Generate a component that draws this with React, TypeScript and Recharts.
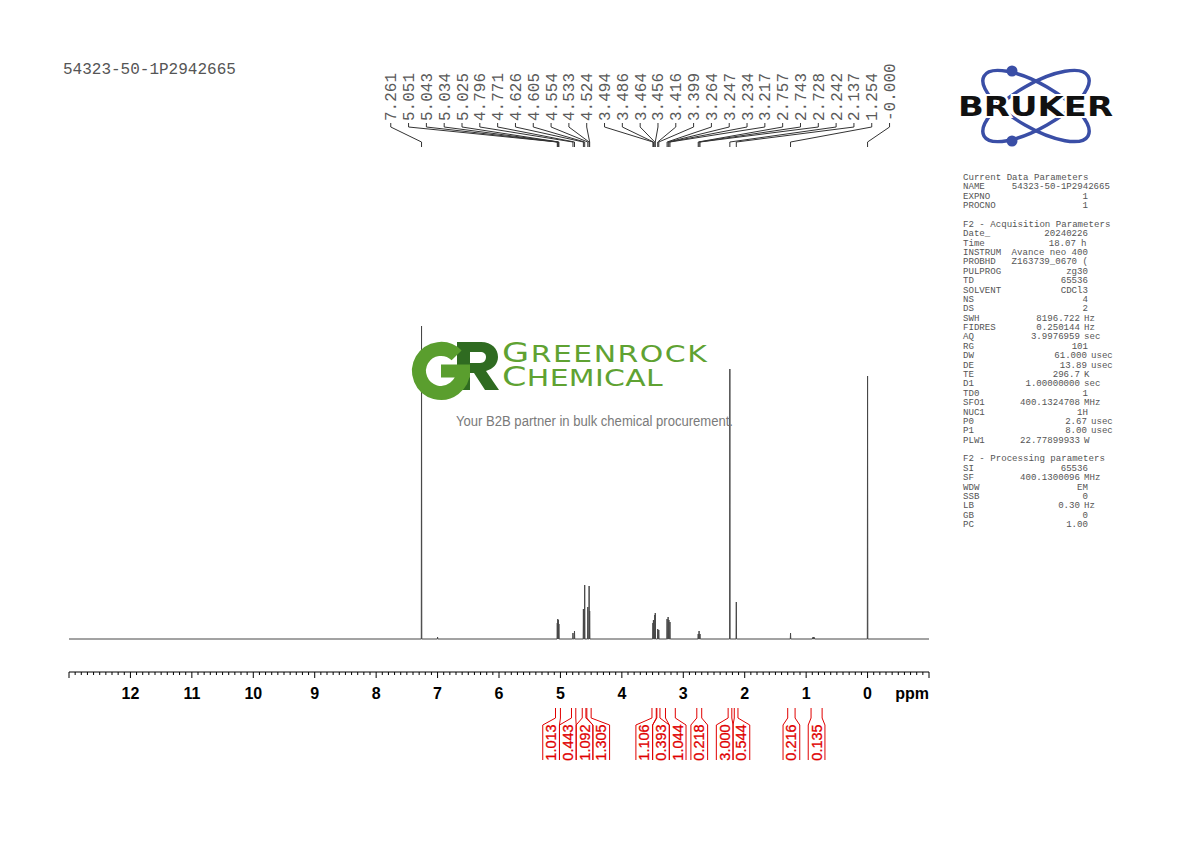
import React from 'react';
import { ComposedChart, Line, Scatter, XAxis, YAxis } from 'recharts';

const W = 1190;
const H = 842;
const PPM_MIN = -1;
const PPM_MAX = 13;

const sampleName = '54323-50-1P2942665';

// spectrum peaks: chemical shift (ppm) and height (relative units, baseline = 0)
const peakPpm = [7.261, 7.0, 5.051, 5.043, 5.034, 5.025, 4.796, 4.771, 4.626, 4.605, 4.554, 4.533, 4.524,
  3.494, 3.486, 3.464, 3.456, 3.416, 3.399, 3.264, 3.247, 3.234, 3.217, 2.757, 2.743, 2.728,
  2.242, 2.137, 1.254, 0.895, 0.88, 0.865, 0.0];
const peakHeight = [313, 2, 16, 20, 19, 15, 6, 8, 30, 54, 32, 53, 28,
  16, 19, 24, 26, 10, 9, 20, 22, 19, 17, 5, 8, 5,
  270, 37, 6, 1.5, 2, 1.5, 263];

// peak picking labels
const labelPpm = [7.261, 5.051, 5.043, 5.034, 5.025, 4.796, 4.771, 4.626, 4.605, 4.554, 4.533, 4.524,
  3.494, 3.486, 3.464, 3.456, 3.416, 3.399, 3.264, 3.247, 3.234, 3.217, 2.757, 2.743, 2.728,
  2.242, 2.137, 1.254, 0.0];
const labelText = ['7.261', '5.051', '5.043', '5.034', '5.025', '4.796', '4.771', '4.626', '4.605', '4.554',
  '4.533', '4.524', '3.494', '3.486', '3.464', '3.456', '3.416', '3.399', '3.264', '3.247', '3.234',
  '3.217', '2.757', '2.743', '2.728', '2.242', '2.137', '1.254', '-0.000'];

// integrals
const integralFrom = [5.08, 4.82, 4.645, 4.57, 3.51, 3.43, 3.29, 2.78, 2.27, 2.17, 1.30, 0.92];
const integralTo = [5.0, 4.75, 4.585, 4.5, 3.44, 3.38, 3.13, 2.7, 2.21, 2.11, 1.18, 0.74];
const integralValue = ['1.013', '0.443', '1.092', '1.305', '1.106', '0.393', '1.044', '0.218', '3.000', '0.544', '0.216', '0.135'];

// axis
const majorTicks = [13, 12, 11, 10, 9, 8, 7, 6, 5, 4, 3, 2, 1, 0, -1];
const majorLabels = ['', '12', '11', '10', '9', '8', '7', '6', '5', '4', '3', '2', '1', '0', 'ppm'];

// acquisition / processing parameters
const paramNames = ['Current Data Parameters', 'NAME', 'EXPNO', 'PROCNO', '', 'F2 - Acquisition Parameters',
  'Date_', 'Time', 'INSTRUM', 'PROBHD', 'PULPROG', 'TD', 'SOLVENT', 'NS', 'DS', 'SWH', 'FIDRES', 'AQ', 'RG',
  'DW', 'DE', 'TE', 'D1', 'TD0', 'SFO1', 'NUC1', 'P0', 'P1', 'PLW1', '', 'F2 - Processing parameters',
  'SI', 'SF', 'WDW', 'SSB', 'LB', 'GB', 'PC'];
const paramValues = ['', '54323-50-1P2942665', '1', '1', '', '',
  '20240226', '18.07', 'Avance neo 400', 'Z163739_0670 (', 'zg30', '65536', 'CDCl3', '4', '2', '8196.722', '0.250144', '3.9976959', '101',
  '61.000', '13.89', '296.7', '1.00000000', '1', '400.1324708', '1H', '2.67', '8.00', '22.77899933', '', '',
  '65536', '400.1300096', 'EM', '0', '0.30', '0', '1.00'];
const paramUnits = ['', '', '', '', '', '',
  '', 'h', '', '', '', '', '', '', '', 'Hz', 'Hz', 'sec', '',
  'usec', 'usec', 'K', 'sec', '', 'MHz', '', 'usec', 'usec', 'W', '', '',
  '', 'MHz', '', '', 'Hz', '', ''];

// ---------- helpers ----------
function spread(targets: number[], gap: number): number[] {
  const cl: { idx: number[]; sum: number }[] = [];
  const bounds = (c: { idx: number[]; sum: number }) => {
    const m = c.sum / c.idx.length;
    const half = ((c.idx.length - 1) * gap) / 2;
    return { hi: m + half, lo: m - half };
  };
  targets.forEach((t, i) => {
    cl.push({ idx: [i], sum: t });
    while (cl.length > 1) {
      const b = cl[cl.length - 1];
      const a = cl[cl.length - 2];
      if (bounds(a).lo - bounds(b).hi < gap) {
        a.idx.push(...b.idx);
        a.sum += b.sum;
        cl.pop();
      } else break;
    }
  });
  const out: number[] = new Array(targets.length);
  cl.forEach((c) => {
    const { hi } = bounds(c);
    c.idx.forEach((i, k) => {
      out[i] = hi - k * gap;
    });
  });
  return out;
}

const PEAK_HALF_WIDTH = 0.004;
const spectrum = (() => {
  const pts: { x: number; y: number }[] = [{ x: PPM_MAX, y: 0 }];
  const order = peakPpm.map((_, i) => i).sort((a, b) => peakPpm[b] - peakPpm[a]);
  order.forEach((i) => {
    pts.push({ x: peakPpm[i] + PEAK_HALF_WIDTH, y: 0 });
    pts.push({ x: peakPpm[i], y: peakHeight[i] });
    pts.push({ x: peakPpm[i] - PEAK_HALF_WIDTH, y: 0 });
  });
  pts.push({ x: PPM_MIN, y: 0 });
  return pts;
})();

// annotation levels (same units as the spectrum axis)
const LBL_BASE = 518;
const CON_A = 516;
const CON_B = 512;
const CON_C = 497;
const CON_D = 492;
const LABEL_GAP = 0.29;

const labelPos = spread(labelPpm, LABEL_GAP);
const labelPoints = labelPpm.map((p, i) => ({ x: labelPos[i], y: LBL_BASE, text: labelText[i] }));
const connectors: { x: number; y: number | null }[] = [];
labelPpm.forEach((p, i) => {
  connectors.push({ x: labelPos[i], y: CON_A }, { x: labelPos[i], y: CON_B }, { x: p, y: CON_C }, { x: p, y: CON_D }, { x: p, y: null });
});

// integral annotation levels (chart 2 units, 0 = top)
const INT_GAP = 0.272;
const IT_TOP = 8;
const IT_MID = 18;
const IT_BOX = 25;
const IT_BOT = 60;
const IT_TEXT = 42.5;
const integralCenters = integralFrom.map((a, i) => (a + integralTo[i]) / 2);
const integralPos = spread(integralCenters, INT_GAP);
const integralPoints = integralPos.map((c, i) => ({ x: c, y: IT_TEXT, text: integralValue[i] }));
const brackets: { x: number; y: number | null }[] = [];
integralPos.forEach((c, i) => {
  const L = c + INT_GAP / 2;
  const R = c - INT_GAP / 2;
  brackets.push({ x: L, y: IT_BOT }, { x: L, y: IT_BOX }, { x: integralFrom[i], y: IT_MID }, { x: integralFrom[i], y: IT_TOP }, { x: L, y: null });
  brackets.push({ x: R, y: IT_BOT }, { x: R, y: IT_BOX }, { x: integralTo[i], y: IT_MID }, { x: integralTo[i], y: IT_TOP }, { x: R, y: null });
});

const axisTicks: number[] = [];
majorTicks.forEach((m) => {
  if (m > PPM_MIN) {
    for (let k = 0; k < 10; k++) axisTicks.push(Math.round((m - k / 10) * 10) / 10);
  } else axisTicks.push(m);
});

const AxisTick = (props: any) => {
  const { x, y, payload } = props;
  const v = payload.value as number;
  const mi = majorTicks.indexOf(v);
  const isMajor = mi >= 0;
  const lab = isMajor ? majorLabels[mi] : '';
  return (
    <g>
      <line x1={x} x2={x} y1={y} y2={y + (isMajor ? 6 : 3)} stroke="#000" strokeWidth={1} />
      {lab && (
        <text x={x} y={y + 27} textAnchor={lab === 'ppm' ? 'end' : 'middle'} fontFamily="'Liberation Sans', Arial, sans-serif" fontWeight="bold" fontSize={16} fill="#000">
          {lab}
        </text>
      )}
    </g>
  );
};

const renderPeakLabel = (props: any) => {
  const { cx, cy, payload } = props;
  return (
    <text x={cx} y={cy} dy={5.5} transform={`rotate(-90 ${cx} ${cy})`} textAnchor="start" fontFamily="'Liberation Mono', 'Courier New', monospace" fontSize={16} fill="#5a5a5a">
      {payload.text}
    </text>
  );
};

const renderIntegralLabel = (props: any) => {
  const { cx, cy, payload } = props;
  return (
    <text x={cx} y={cy} dy={5} transform={`rotate(-90 ${cx} ${cy})`} textAnchor="middle" fontFamily="'Liberation Sans', Arial, sans-serif" fontSize={14.5} fill="#e00000" stroke="#e00000" strokeWidth={0.3}>
      {payload.text}
    </text>
  );
};

const MONO = "'Liberation Mono', 'Courier New', monospace";

export default function App() {
  const paramY0 = 180;
  const paramDy = 9.38;
  return (
    <div style={{ position: 'absolute', left: 0, top: 0, width: W, height: H, background: '#fff', overflow: 'hidden' }}>
      <div style={{ position: 'absolute', left: 0, top: 0 }}>
        <ComposedChart width={W} height={H} margin={{ top: 60, right: 261, bottom: 140, left: 69 }}>
          <XAxis
            type="number"
            dataKey="x"
            domain={[PPM_MIN, PPM_MAX]}
            reversed
            ticks={axisTicks}
            interval={0}
            tickSize={0}
            tickMargin={0}
            tickLine={false}
            axisLine={{ stroke: '#000', strokeWidth: 1 }}
            tick={<AxisTick />}
            height={30}
          />
          <YAxis hide type="number" dataKey="y" domain={[-33, 579]} />
          <Line data={spectrum} dataKey="y" type="linear" stroke="#474747" strokeWidth={1} dot={false} activeDot={false} isAnimationActive={false} />
          <Line data={connectors} dataKey="y" type="linear" stroke="#333" strokeWidth={1} dot={false} activeDot={false} connectNulls={false} isAnimationActive={false} />
          <Scatter data={labelPoints} dataKey="y" shape={renderPeakLabel} isAnimationActive={false} />
        </ComposedChart>
      </div>
      <div style={{ position: 'absolute', left: 0, top: 700 }}>
        <ComposedChart width={W} height={70} margin={{ top: 0, right: 261, bottom: 0, left: 69 }}>
          <XAxis hide type="number" dataKey="x" domain={[PPM_MIN, PPM_MAX]} reversed />
          <YAxis hide type="number" dataKey="y" domain={[0, 70]} reversed />
          <Line data={brackets} dataKey="y" type="linear" stroke="#e00000" strokeWidth={1} dot={false} activeDot={false} connectNulls={false} isAnimationActive={false} />
          <Scatter data={integralPoints} dataKey="y" shape={renderIntegralLabel} isAnimationActive={false} />
        </ComposedChart>
      </div>
      <svg style={{ position: 'absolute', left: 0, top: 0, pointerEvents: 'none' }} width={W} height={H}>
        <text x={63} y={74} fontFamily={MONO} fontSize={16} fill="#555">{sampleName}</text>

        {/* Bruker logo */}
        <g>
          <ellipse cx={1036} cy={106} rx={60} ry={22} transform="rotate(30 1036 106)" fill="none" stroke="#3a4ea6" strokeWidth={3.5} />
          <ellipse cx={1036} cy={106} rx={60} ry={22} transform="rotate(-30 1036 106)" fill="none" stroke="#3a4ea6" strokeWidth={3.5} />
          <circle cx={1012} cy={71} r={5.5} fill="#3a4ea6" />
          <circle cx={1012} cy={141} r={5.5} fill="#3a4ea6" />
          <text x={958} y={116} fontFamily="'DejaVu Sans', sans-serif" fontWeight="bold" fontSize={27} textLength={155} lengthAdjust="spacingAndGlyphs" fill="#111" stroke="#fff" strokeWidth={4} paintOrder="stroke">BRUKER</text>
        </g>

        {/* parameters */}
        <g fontFamily={MONO} fontSize={9.1} fill="#555">
          {paramNames.map((n, i) => {
            const y = paramY0 + i * paramDy;
            const val = paramValues[i];
            const unit = paramUnits[i];
            const isName = n === 'NAME';
            const valEnd = isName ? 1110 : unit === 'usec' ? 1087 : unit === 'h' ? 1076 : unit ? 1080 : 1088;
            const unitX = unit === 'usec' ? 1091 : unit === 'h' ? 1081 : 1084;
            return (
              <g key={i}>
                {n && <text x={963} y={y}>{n}</text>}
                {val && <text x={valEnd} y={y} textAnchor="end">{val}</text>}
                {unit && <text x={unitX} y={y}>{unit}</text>}
              </g>
            );
          })}
        </g>

        {/* Greenrock watermark: GR monogram drawn as shapes */}
        <g>
          <path
            d="M 457 342 L 481 342 C 492 342 498 349 498 357 C 498 364 493 369 486 371 L 499 390 L 485 390 L 474 373 L 470 373 L 470 390 L 457 390 Z M 470 352 L 480 352 C 484 352 486 354 486 357 C 486 360 484 363 480 363 L 470 363 Z"
            fill="#2f6b21"
            fillRule="evenodd"
          />
          <path d="M 456.6 355.4 A 22 22 0 1 0 463 371" fill="none" stroke="#5a9e2e" strokeWidth={14} />
          <rect x={441} y={364.5} width={29} height={13} fill="#5a9e2e" />
          <g transform="translate(502 0) scale(1.3 1) translate(-502 0)">
            <text fontFamily="'DejaVu Sans', sans-serif" fill="#5fa232">
              <tspan x={502} y={362} letterSpacing={1.15}>
                <tspan fontSize={27}>G</tspan>
                <tspan fontSize={23}>REENROCK</tspan>
              </tspan>
              <tspan x={502} y={386} letterSpacing={0.25}>
                <tspan fontSize={27}>C</tspan>
                <tspan fontSize={23}>HEMICAL</tspan>
              </tspan>
            </text>
          </g>
          <text x={456} y={426} fontFamily="'Liberation Sans', Arial, sans-serif" fontSize={14} fill="#7a7a7a" textLength={277} lengthAdjust="spacingAndGlyphs">
            Your B2B partner in bulk chemical procurement.
          </text>
        </g>
      </svg>
    </div>
  );
}
